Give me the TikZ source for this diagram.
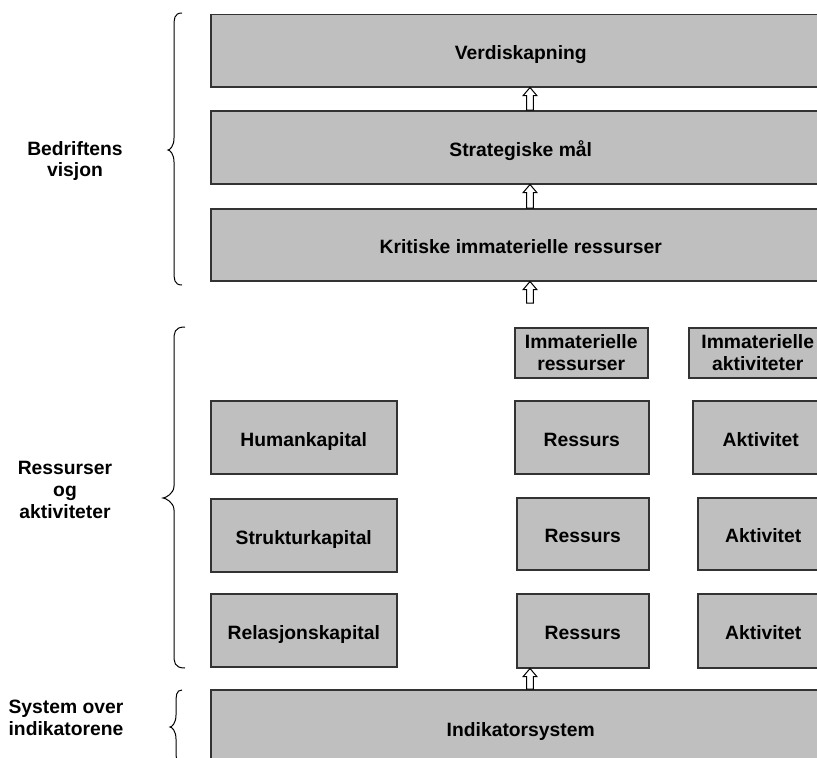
\documentclass[tikz,border=0pt]{standalone}
\usepackage{fontspec}
\setmainfont{Liberation Sans}
\usetikzlibrary{calc}

\tikzset{
  box/.style={draw=black!80, line width=1.5pt, fill=black!25, anchor=north west,
              inner sep=0pt, align=center, font=\fontsize{19.3}{21.7}\selectfont\bfseries},
  oneline/.style={box, text height=18pt, text depth=0pt},
  lbl/.style={align=center, font=\fontsize{19.3}{21.7}\selectfont\bfseries, inner sep=0pt},
  brace/.style={draw=black, line width=1pt},
  hollow/.style={draw=black, line width=1pt, fill=white}
}

% hollow upward block arrow from (#1) up to (#2)
\newcommand\hollowup[2]{%
  \path[hollow] let \p1=(#1), \p2=(#2) in
    (\x1-3.3pt,\y1) -- (\x1-3.3pt,\y2-8pt) -- (\x1-6.8pt,\y2-8pt) -- (\x1,\y2)
    -- (\x1+6.8pt,\y2-8pt) -- (\x1+3.3pt,\y2-8pt) -- (\x1+3.3pt,\y1) -- cycle;}

% curly brace: #1 end x, #2 arm x, #3 tip x, #4 top y, #5 tip y, #6 bottom y
\newcommand\curlybrace[6]{%
  \draw[brace] (#1,#4) .. controls (#2,#4) and (#2,#4+6) .. (#2,#4+14)
    -- (#2,#5-12) .. controls (#2,#5-4) and (#3+2,#5) .. (#3,#5)
    .. controls (#3+2,#5) and (#2,#5+4) .. (#2,#5+12)
    -- (#2,#6-14) .. controls (#2,#6-6) and (#2,#6) .. (#1,#6);}

\begin{document}
\begin{tikzpicture}[x=1pt,y=-1pt]
\useasboundingbox (0,0) rectangle (817,758);
\clip (0,0) rectangle (817,758);

% vision layer
\node[oneline, minimum width=620pt, minimum height=72.5pt] (verd) at (210,13.5) {Verdiskapning};
\node[oneline, minimum width=620pt, minimum height=73pt] (strat) at (210,110) {Strategiske mål};
\node[oneline, minimum width=620pt, minimum height=72pt] (krit) at (210,208) {Kritiske immaterielle ressurser};

% column headers
\node[box, minimum width=133pt, minimum height=50pt] (imres) at (514,327) {Immaterielle\\ressurser};
\node[box, minimum width=138pt, minimum height=50pt] (imakt) at (688,327) {Immaterielle\\aktiviteter};

% capital rows
\node[oneline, minimum width=186pt, minimum height=73pt] (human) at (210,400) {Humankapital};
\node[oneline, minimum width=134pt, minimum height=73pt] (res1) at (514,400) {Ressurs};
\node[oneline, minimum width=136pt, minimum height=73pt] (akt1) at (692,400) {Aktivitet};

\node[oneline, minimum width=186pt, minimum height=73pt] (struk) at (210,498) {Strukturkapital};
\node[oneline, minimum width=132pt, minimum height=72pt] (res2) at (516,497) {Ressurs};
\node[oneline, minimum width=131pt, minimum height=72pt] (akt2) at (697,497) {Aktivitet};

\node[oneline, minimum width=186pt, minimum height=73pt] (rel) at (210,593) {Relasjonskapital};
\node[oneline, minimum width=132pt, minimum height=74pt] (res3) at (516,593) {Ressurs};
\node[oneline, minimum width=131pt, minimum height=74pt] (akt3) at (697,593) {Aktivitet};

% indicator system
\node[box, minimum width=620pt, minimum height=90pt] (ind) at (210,689) {\raisebox{10pt}{Indikatorsystem}};

% arrows
\coordinate (ax) at (530,0);
\hollowup{strat.north -| ax}{verd.south -| ax}
\hollowup{krit.north -| ax}{strat.south -| ax}
\coordinate (kbot) at (530,303);
\hollowup{kbot}{krit.south -| ax}
\hollowup{ind.north -| ax}{res3.south -| ax}

% side labels
\node[lbl] (l1) at (75,161) {Bedriftens\\visjon};
\node[lbl] (l2) at (65,490) {Ressurser\\og\\aktiviteter};
\node[lbl] (l3) at (66,718) {System over\\indikatorene};

% braces
\curlybrace{182}{174}{168}{13}{150}{285}
\curlybrace{185}{174}{163}{327}{498}{668}
\curlybrace{182}{176}{170}{690}{727}{764}
\end{tikzpicture}
\end{document}
